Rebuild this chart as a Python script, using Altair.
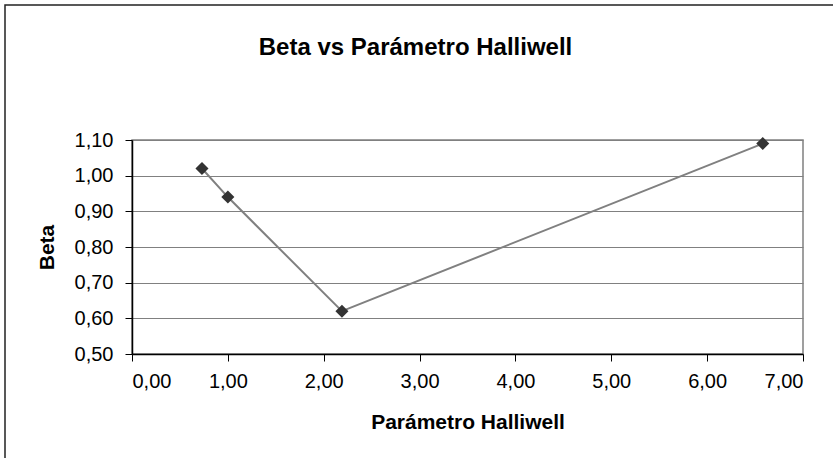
import altair as alt
import pandas as pd

# Beta measured against the Halliwell parameter
halliwell = [0.73, 1.00, 2.19, 6.58]
beta = [1.02, 0.94, 0.62, 1.09]

x_ticks = [0, 1, 2, 3, 4, 5, 6, 7]
y_ticks = [0.5, 0.6, 0.7, 0.8, 0.9, 1.0, 1.1]

df = pd.DataFrame({"halliwell": halliwell, "beta": beta})

FONT = "Liberation Sans"
comma_fmt = "replace(format(datum.value, '.2f'), '.', ',')"

x_enc = alt.X(
    "halliwell:Q",
    scale=alt.Scale(domain=[0, 7], nice=False, zero=False),
    axis=alt.Axis(
        title="Parámetro Halliwell",
        values=x_ticks,
        tickCount=20,
        labelExpr=comma_fmt,
        labelOverlap=False,
        grid=False,
        domainColor="#000000",
        domainWidth=1.5,
        tickColor="#000000",
        tickSize=7,
        labelPadding=10,
        labelFontSize=20,
        labelFont=FONT,
        labelColor="#000000",
        titleFont=FONT,
        titleFontSize=21,
        titleFontWeight="bold",
        titleColor="#000000",
        titleBaseline="alphabetic",
        titleY=74,
    ),
)

y_enc = alt.Y(
    "beta:Q",
    scale=alt.Scale(domain=[0.5, 1.1], nice=False, zero=False),
    axis=alt.Axis(
        title="Beta",
        values=y_ticks,
        tickCount=20,
        labelExpr=comma_fmt,
        labelOverlap=False,
        grid=True,
        gridColor="#808080",
        gridWidth=1,
        domainColor="#000000",
        domainWidth=1.5,
        tickColor="#000000",
        tickSize=7,
        labelPadding=12,
        labelFontSize=20,
        labelFont=FONT,
        labelColor="#000000",
        titleFont=FONT,
        titleFontSize=21,
        titleFontWeight="bold",
        titleColor="#000000",
        titleBaseline="middle",
        titleX=-85,
        titleY=107,
    ),
)

base = alt.Chart(df)

line = base.mark_line(color="#808080", strokeWidth=2).encode(x=x_enc, y=y_enc)
points = base.mark_point(
    shape="diamond", size=170, filled=True, color="#333333", opacity=1
).encode(x="halliwell:Q", y="beta:Q")

# thin frame around the whole chart area
frame = alt.Chart(alt.Data(values=[{}])).mark_rect(
    fill="transparent", stroke="#222222", strokeWidth=1.5
).encode(
    x=alt.value(-127), x2=alt.value(900),
    y=alt.value(-135), y2=alt.value(400),
)

chart = (
    alt.layer(line, points, frame)
    .properties(
        width=671,
        height=214,
        title=alt.TitleParams(
            "Beta vs Parámetro Halliwell",
            font=FONT,
            fontSize=24,
            fontWeight="bold",
            color="#000000",
            anchor="middle",
            baseline="alphabetic",
            dx=-52,
            offset=0,
            dy=75,
        ),
        autosize=alt.AutoSizeParams(type="none"),
        padding={"left": 132, "top": 140, "right": 30, "bottom": 104},
        background="#ffffff",
    )
    .configure_view(stroke="#808080", strokeWidth=1.5)
)

chart.save("out.html", embed_options={"renderer": "svg", "actions": False})
